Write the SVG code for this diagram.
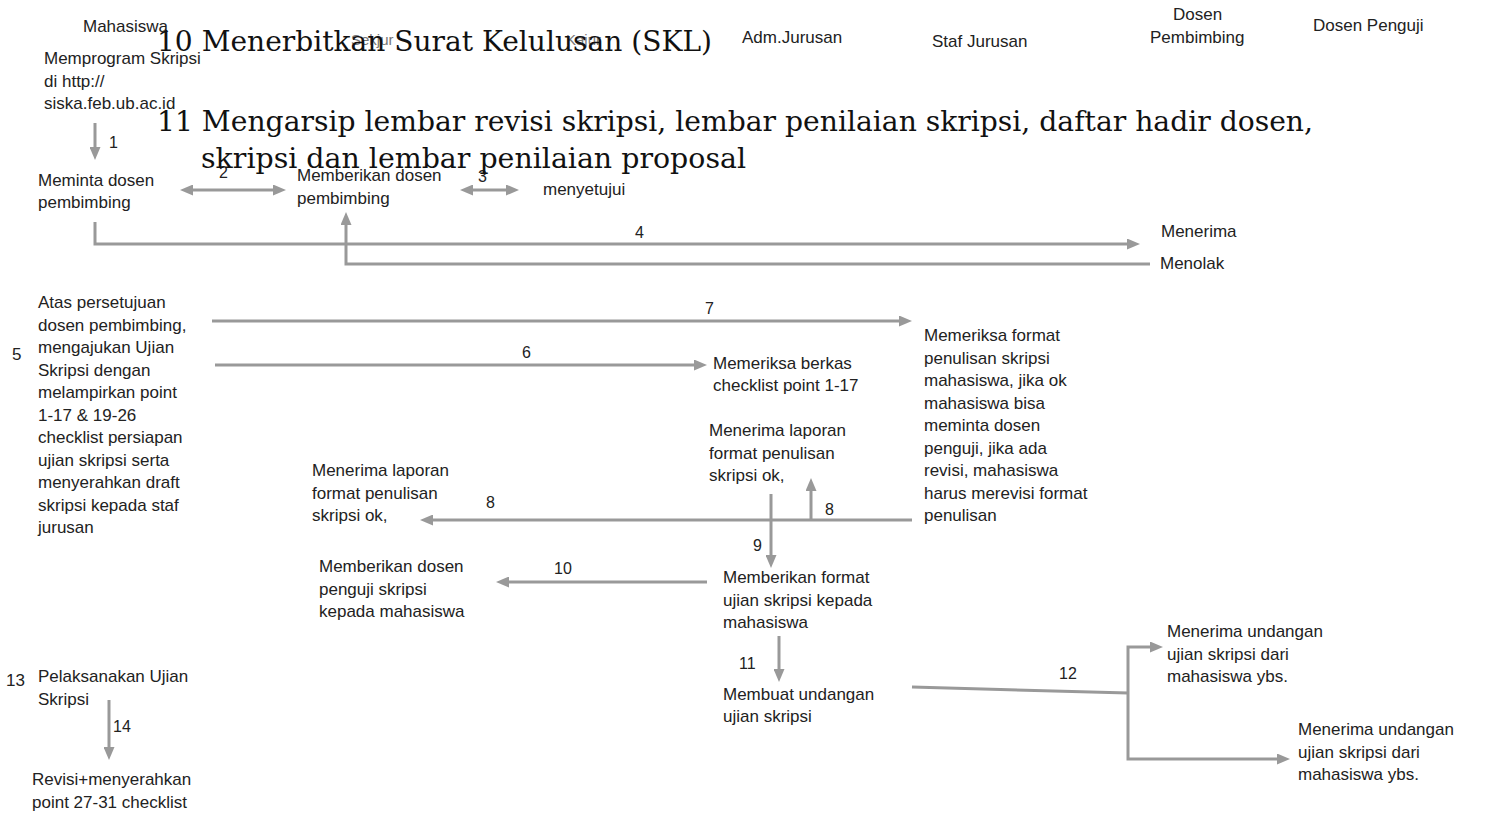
<svg xmlns="http://www.w3.org/2000/svg" width="1485" height="815" viewBox="0 0 1485 815">
<defs>
<style>
.t{font-family:"Liberation Sans",Arial,sans-serif;font-size:17px;fill:#222}
.h{font-family:"Liberation Sans",Arial,sans-serif;font-size:17px;fill:#222}
.f{font-family:"Liberation Sans",Arial,sans-serif;font-size:15px;fill:#777}
.n{font-family:"Liberation Sans",Arial,sans-serif;font-size:16px;fill:#222}
.s{font-family:"DejaVu Serif",serif;font-size:27px;fill:#111}
.c{fill:none;stroke:#999;stroke-width:3}
</style>
<marker id="ah" viewBox="0 0 13 11" markerWidth="13" markerHeight="11" refX="3" refY="5.5" orient="auto-start-reverse" markerUnits="userSpaceOnUse">
<path d="M0,0 L13,5.5 L0,11 z" fill="#999"/>
</marker>
</defs>
<rect width="1485" height="815" fill="#fff"/>

<g id="headers">
<text class="h" x="83" y="32">Mahasiswa</text>
<text class="f" x="351" y="45">Sekjur</text>
<text class="f" x="566" y="45">Kajur</text>
<text class="h" x="742" y="43">Adm.Jurusan</text>
<text class="h" x="932" y="47">Staf Jurusan</text>
<text class="h" x="1173" y="20">Dosen</text>
<text class="h" x="1150" y="43">Pembimbing</text>
<text class="h" x="1313" y="31">Dosen Penguji</text>
</g>

<g id="connectors">
<path class="c" d="M95,123 V150" marker-end="url(#ah)"/>
<path class="c" d="M190,190 H276" marker-start="url(#ah)" marker-end="url(#ah)"/>
<path class="c" d="M470,190 H509" marker-start="url(#ah)" marker-end="url(#ah)"/>
<path class="c" d="M95,222 V244 H1130" marker-end="url(#ah)"/>
<path class="c" d="M1150,264 H346 V222" marker-end="url(#ah)"/>
<path class="c" d="M212,321 H902" marker-end="url(#ah)"/>
<path class="c" d="M215,365 H697" marker-end="url(#ah)"/>
<path class="c" d="M912,520 H430" marker-end="url(#ah)"/>
<path class="c" d="M811,520 V488" marker-end="url(#ah)"/>
<path class="c" d="M771,494 V558" marker-end="url(#ah)"/>
<path class="c" d="M707,582 H506" marker-end="url(#ah)"/>
<path class="c" d="M779,636 V672" marker-end="url(#ah)"/>
<path class="c" d="M912,687 L1128,693"/>
<path class="c" d="M1153,647 H1128 V759 H1280" marker-start="url(#ah)" marker-end="url(#ah)"/>
<path class="c" d="M109,700 V750" marker-end="url(#ah)"/>
<text class="n" x="109" y="148">1</text>
<text class="n" x="219" y="178">2</text>
<text class="n" x="478" y="182">3</text>
<text class="n" x="635" y="238">4</text>
<text class="n" x="705" y="314">7</text>
<text class="n" x="522" y="358">6</text>
<text class="n" x="486" y="508">8</text>
<text class="n" x="825" y="515">8</text>
<text class="n" x="753" y="551">9</text>
<text class="n" x="554" y="574">10</text>
<text class="n" x="739" y="669">11</text>
<text class="n" x="1059" y="679">12</text>
<text class="n" x="113" y="732">14</text>
</g>

<g id="serif-notes">
<text class="s" x="157" y="51" textLength="555" lengthAdjust="spacingAndGlyphs">10 Menerbitkan Surat Kelulusan (SKL)</text>
<text class="s" x="157" y="131" textLength="1156" lengthAdjust="spacingAndGlyphs">11 Mengarsip lembar revisi skripsi, lembar penilaian skripsi, daftar hadir dosen,</text>
<text class="s" x="201" y="168" textLength="545" lengthAdjust="spacingAndGlyphs">skripsi dan lembar penilaian proposal</text>
</g>

<g id="n-memprogram">
<text class="t" x="44" y="64">Memprogram Skripsi</text>
<text class="t" x="44" y="87">di http://</text>
<text class="t" x="44" y="109">siska.feb.ub.ac.id</text>
</g>
<g id="n-meminta">
<text class="t" x="38" y="186">Meminta dosen</text>
<text class="t" x="38" y="208">pembimbing</text>
</g>
<g id="n-memberikan-pembimbing">
<text class="t" x="297" y="181">Memberikan dosen</text>
<text class="t" x="297" y="204">pembimbing</text>
</g>
<g id="n-menyetujui">
<text class="t" x="543" y="195">menyetujui</text>
</g>
<g id="n-menerima">
<text class="t" x="1161" y="237">Menerima</text>
</g>
<g id="n-menolak">
<text class="t" x="1160" y="269">Menolak</text>
</g>
<g id="n-atas">
<text class="t" x="12" y="360">5</text>
<text class="t" x="38" y="308">Atas persetujuan</text>
<text class="t" x="38" y="330.5">dosen pembimbing,</text>
<text class="t" x="38" y="353">mengajukan Ujian</text>
<text class="t" x="38" y="375.5">Skripsi dengan</text>
<text class="t" x="38" y="398">melampirkan point</text>
<text class="t" x="38" y="420.5">1-17 &amp; 19-26</text>
<text class="t" x="38" y="443">checklist persiapan</text>
<text class="t" x="38" y="465.5">ujian skripsi serta</text>
<text class="t" x="38" y="488">menyerahkan draft</text>
<text class="t" x="38" y="510.5">skripsi kepada staf</text>
<text class="t" x="38" y="533">jurusan</text>
</g>
<g id="n-berkas">
<text class="t" x="713" y="369">Memeriksa berkas</text>
<text class="t" x="713" y="391">checklist point 1-17</text>
</g>
<g id="n-format">
<text class="t" x="924" y="341">Memeriksa format</text>
<text class="t" x="924" y="363.5">penulisan skripsi</text>
<text class="t" x="924" y="386">mahasiswa, jika ok</text>
<text class="t" x="924" y="408.5">mahasiswa bisa</text>
<text class="t" x="924" y="431">meminta dosen</text>
<text class="t" x="924" y="453.5">penguji, jika ada</text>
<text class="t" x="924" y="476">revisi, mahasiswa</text>
<text class="t" x="924" y="498.5">harus merevisi format</text>
<text class="t" x="924" y="521">penulisan</text>
</g>
<g id="n-laporan-adm">
<text class="t" x="709" y="436">Menerima laporan</text>
<text class="t" x="709" y="458.5">format penulisan</text>
<text class="t" x="709" y="481">skripsi ok,</text>
</g>
<g id="n-laporan-kajur">
<text class="t" x="312" y="476">Menerima laporan</text>
<text class="t" x="312" y="498.5">format penulisan</text>
<text class="t" x="312" y="521">skripsi ok,</text>
</g>
<g id="n-format-ujian">
<text class="t" x="723" y="583">Memberikan format</text>
<text class="t" x="723" y="605.5">ujian skripsi kepada</text>
<text class="t" x="723" y="628">mahasiswa</text>
</g>
<g id="n-penguji">
<text class="t" x="319" y="572">Memberikan dosen</text>
<text class="t" x="319" y="594.5">penguji skripsi</text>
<text class="t" x="319" y="617">kepada mahasiswa</text>
</g>
<g id="n-undangan">
<text class="t" x="723" y="700">Membuat undangan</text>
<text class="t" x="723" y="722">ujian skripsi</text>
</g>
<g id="n-undangan-pembimbing">
<text class="t" x="1167" y="637">Menerima undangan</text>
<text class="t" x="1167" y="659.5">ujian skripsi dari</text>
<text class="t" x="1167" y="682">mahasiswa ybs.</text>
</g>
<g id="n-undangan-penguji">
<text class="t" x="1298" y="735">Menerima undangan</text>
<text class="t" x="1298" y="757.5">ujian skripsi dari</text>
<text class="t" x="1298" y="780">mahasiswa ybs.</text>
</g>
<g id="n-pelaksanaan">
<text class="t" x="6" y="686">13</text>
<text class="t" x="38" y="682">Pelaksanakan Ujian</text>
<text class="t" x="38" y="705">Skripsi</text>
</g>
<g id="n-revisi">
<text class="t" x="32" y="785">Revisi+menyerahkan</text>
<text class="t" x="32" y="808">point 27-31 checklist</text>
</g>
</svg>
